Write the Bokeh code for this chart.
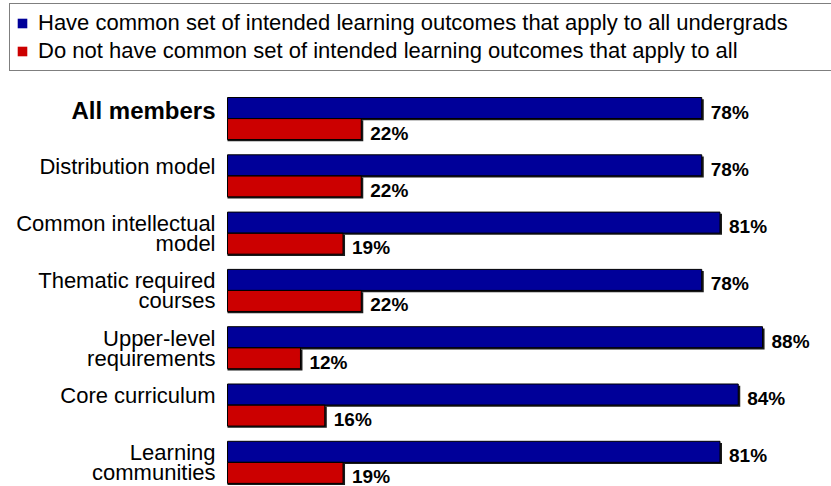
from bokeh.plotting import figure
from bokeh.models import ColumnDataSource, Range1d, Legend, LegendItem
from bokeh.embed import file_html
from bokeh.resources import INLINE
from bokeh.core.properties import value

# ---- data ----
categories = [
    "All members",
    "Distribution model",
    "Common intellectual\nmodel",
    "Thematic required\ncourses",
    "Upper-level\nrequirements",
    "Core curriculum",
    "Learning\ncommunities",
]
have_pct = [78, 78, 81, 78, 88, 84, 81]
not_pct = [22, 22, 19, 22, 12, 16, 19]
series_names = [
    "Have common set of intended learning outcomes that apply to all undergrads",
    "Do not have common set of intended learning outcomes that apply to all",
]
label_styles = ["bold", "normal", "normal", "normal", "normal", "normal", "normal"]

# ---- layout helpers ----
BLUE = "#000099"
RED = "#cc0000"
FONT = "Liberation Sans"
H = 0.367          # bar thickness in band units
SHX, SHY = 0.33, 0.03   # small drop-shadow offset (about 2 px)

pos = [-i for i in range(len(categories))]
blue_y = [c + H / 2 for c in pos]
red_y = [c - H / 2 for c in pos]

src_have = ColumnDataSource(dict(
    y=blue_y, v=have_pct, txt=[f"{v}%" for v in have_pct],
    sy=[y - SHY for y in blue_y], sv=[v + SHX for v in have_pct]))
src_not = ColumnDataSource(dict(
    y=red_y, v=not_pct, txt=[f"{v}%" for v in not_pct],
    sy=[y - SHY for y in red_y], sv=[v + SHX for v in not_pct]))
src_cat = ColumnDataSource(dict(
    y=[c + H for c in pos], x=[0] * len(categories),
    txt=categories, style=label_styles,
    size=["24px" if s == "bold" else "22px" for s in label_styles]))

p = figure(width=831, height=486,
           x_range=Range1d(-36.35, 99.34), y_range=Range1d(-6.4218, 2.0599),
           output_backend="svg", toolbar_location=None,
           x_axis_location=None, y_axis_location=None,
           min_border=0, min_border_left=6)
p.grid.visible = False
p.outline_line_color = None

# drop shadows
for src in (src_have, src_not):
    p.hbar(y="sy", right="sv", left=0, height=H, source=src,
           fill_color="#1a1a1a", line_color=None)

r_have = p.hbar(y="y", right="v", left=0, height=H, source=src_have,
                fill_color=BLUE, line_color=None)
r_not = p.hbar(y="y", right="v", left=0, height=H, source=src_not,
               fill_color=RED, line_color=None)
for src in (src_have, src_not):
    p.hbar(y="y", right="v", left=0, height=H, source=src,
           fill_color=None, line_color="#000000", line_width=1)

# value labels
for src in (src_have, src_not):
    p.text(x="v", y="y", text="txt", source=src, x_offset=9, y_offset=4,
           text_font=value(FONT), text_font_style="bold", text_font_size="19px",
           text_baseline="middle", text_align="left", text_color="#000000")

# category labels
p.text(x="x", y="y", text="txt", source=src_cat, x_offset=-12, y_offset=-1,
       text_font=value(FONT), text_font_style="style", text_font_size="size",
       text_baseline="top", text_align="right", text_color="#000000",
       text_line_height=0.8)

legend = Legend(items=[LegendItem(label=series_names[0], renderers=[r_have]),
                       LegendItem(label=series_names[1], renderers=[r_not])],
                location="top_left", margin=3, padding=6, spacing=2,
                label_height=22, label_width=787, glyph_width=12, glyph_height=12,
                label_standoff=10, label_text_font=FONT,
                label_text_font_size="22px", label_text_color="#000000",
                border_line_color="#000000",
                border_line_width=1, background_fill_color="#ffffff",
                background_fill_alpha=1.0)
p.add_layout(legend)

open("out.html", "w").write(file_html(p, INLINE))
